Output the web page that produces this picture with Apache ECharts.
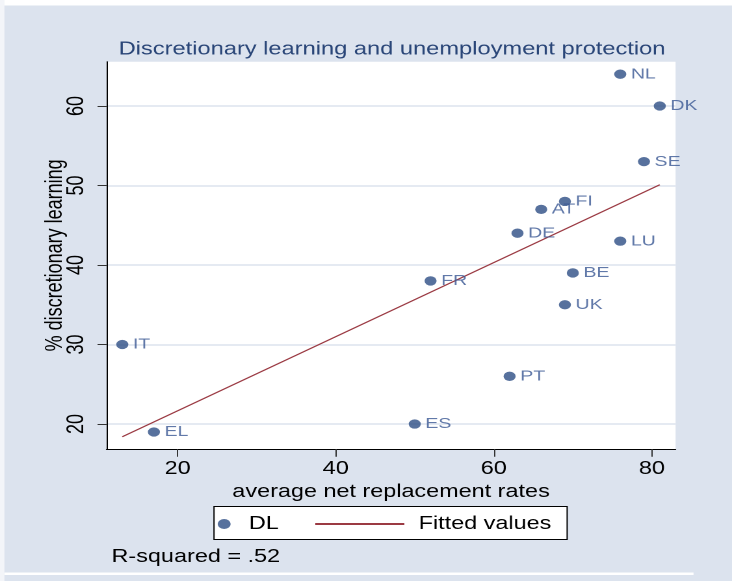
<!DOCTYPE html>
<html>
<head>
<meta charset="utf-8">
<script src="https://cdn.jsdelivr.net/npm/echarts@6/dist/echarts.min.js"></script>
<style>
  html, body { margin: 0; padding: 0; background: #fff; overflow: hidden; }
  /* the reference graph is stretched sideways, so draw narrow and stretch */
  #chart { width: 563px; height: 581px; transform: scaleX(1.30018); transform-origin: 0 0; }
</style>
</head>
<body>
<div id="chart"></div>
<script>
const countries = ["IT", "EL", "ES", "FR", "PT", "DE", "AT", "FI", "UK", "BE", "NL", "LU", "SE", "DK"];
const replacementRates = [13, 17, 50, 52, 62, 63, 66, 69, 69, 70, 76, 76, 79, 81];
const discretionaryLearning = [30, 19, 20, 38, 26, 44, 47, 48, 35, 39, 64, 43, 53, 60];
const fittedX = [13, 81];
const fittedY = [18.4, 50.1];
const xTicks = [20, 40, 60, 80];
const yTicks = [20, 30, 40, 50, 60];

const FONT = "'Liberation Sans', Arial, sans-serif";
const NAVY = "#2d4d85";
const MAROON = "#9b3a43";

const chart = echarts.init(document.getElementById("chart"), null, { devicePixelRatio: 2 });

chart.setOption({
  backgroundColor: "#dce3ee",
  animation: false,
  textStyle: { fontFamily: FONT },
  graphic: [
    { type: "rect", shape: { x: 0, y: 0, width: 563, height: 5.5 }, style: { fill: "#fff" }, silent: true },
    { type: "rect", shape: { x: 0, y: 0, width: 3.4, height: 581 }, style: { fill: "#f3f5f9" }, silent: true },
    { type: "rect", shape: { x: 3.4, y: 572.5, width: 530, height: 2.5 }, style: { fill: "#fff" }, silent: true },
    {
      type: "text", x: 301.5, y: 49.5,
      style: {
        text: "Discretionary learning and unemployment protection",
        font: "18.2px " + FONT, fill: "#2a4678", align: "center", verticalAlign: "middle",
      },
    },
    {
      type: "rect", shape: { x: 164.6, y: 506.5, width: 271.6, height: 33 },
      style: { fill: "#fff", stroke: "#000", lineWidth: 1 }, z: 0,
    },
    {
      type: "text", x: 85.8, y: 557,
      style: { text: "R-squared = .52", font: "18px " + FONT, fill: "#000", verticalAlign: "middle" },
    },
  ],
  grid: { left: 81.9, top: 61.7, width: 437.7, height: 387.3, show: true, backgroundColor: "#fff", borderWidth: 0 },
  legend: [
    {
      data: [{ name: "DL", icon: "circle" }],
      left: 167.4, top: 515, padding: 0, itemWidth: 20, itemHeight: 10,
      textStyle: { fontSize: 18, color: "#000", fontFamily: FONT, padding: [0, 0, 0, 4] },
      z: 10,
    },
    {
      data: [{ name: "Fitted values", itemStyle: { opacity: 0 } }],
      left: 241.5, top: 515, padding: 0, itemWidth: 68.5, itemHeight: 10,
      textStyle: { fontSize: 18, color: "#000", fontFamily: FONT, padding: [0, 0, 0, 6] },
      z: 10,
    },
  ],
  xAxis: {
    type: "value", min: 11, max: 83,
    name: "average net replacement rates", nameLocation: "middle", nameGap: 26,
    nameTextStyle: { fontSize: 18, color: "#000" },
    axisLine: { lineStyle: { color: "#000", width: 1 } },
    axisTick: { customValues: xTicks, length: 7.7, lineStyle: { color: "#333" } },
    axisLabel: { customValues: xTicks, fontSize: 18, color: "#000", margin: 11 },
    splitLine: { show: false },
  },
  yAxis: {
    type: "value", min: 16.86, max: 65.57,
    name: "% discretionary learning", nameLocation: "middle", nameGap: 30.5,
    nameMoveOverlap: false,
    nameTextStyle: { fontSize: 18, color: "#000" },
    axisLine: { show: true, lineStyle: { color: "#000", width: 1 } },
    axisTick: { show: true, customValues: yTicks, length: 6.9, lineStyle: { color: "#333" } },
    axisLabel: { customValues: yTicks, fontSize: 18, color: "#000", rotate: 90, margin: 14 },
    splitLine: { show: true, lineStyle: { color: "#dde4ee", width: 1.5 } },
  },
  series: [
    {
      name: "DL",
      type: "scatter",
      symbolSize: 9.3,
      itemStyle: { color: NAVY },
      label: {
        show: true, position: "right", distance: 3.5,
        formatter: (p) => p.name, fontSize: 15, color: "#3a5893",
      },
      data: replacementRates.map((x, i) => ({ name: countries[i], value: [x, discretionaryLearning[i]] })),
      z: 3,
    },
    {
      name: "Fitted values",
      type: "line",
      symbol: "none",
      lineStyle: { color: MAROON, width: 1.2 },
      itemStyle: { color: MAROON },
      data: fittedX.map((x, i) => [x, fittedY[i]]),
      z: 2,
    },
  ],
});
</script>
</body>
</html>
